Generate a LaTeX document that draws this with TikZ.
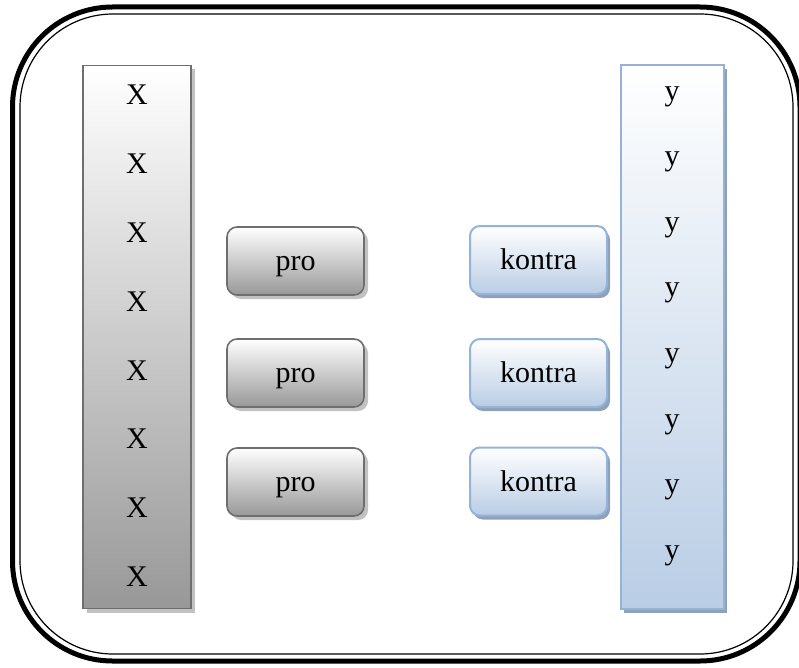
\documentclass[tikz,border=0pt]{standalone}
\usepackage{fontspec}
\setmainfont{Liberation Serif}
\usetikzlibrary{shadows}
\definecolor{grayborder}{HTML}{6E6E6E}
\definecolor{grayshadow}{HTML}{C2C2C2}
\definecolor{grayend}{HTML}{989898}
\definecolor{blueborder}{HTML}{95B3D7}
\definecolor{blueend}{HTML}{B9CDE5}
\definecolor{blueshadow}{HTML}{8EA1B9}
\begin{document}
\begin{tikzpicture}[x=1pt,y=-1pt,
  lbl/.style={font=\fontsize{30}{35}\selectfont, inner sep=0pt},
  graybox/.style={draw=grayborder, line width=1.6pt, top color=white, bottom color=grayend,
    drop shadow={shadow xshift=4pt, shadow yshift=-4pt, fill=grayshadow, opacity=1}},
  bluebox/.style={draw=blueborder, line width=2pt, top color=white, bottom color=blueend,
    drop shadow={shadow xshift=3pt, shadow yshift=-4pt, fill=blueshadow, opacity=1}},
  btn/.style={minimum width=137pt, minimum height=68pt, rounded corners=10pt, inner sep=0pt,
    text height=19pt, text depth=0pt, font=\fontsize{30}{35}\selectfont},
  col/.style={minimum width=108pt, minimum height=543pt, inner sep=0pt}
]
\useasboundingbox (0,0) rectangle (799,668);
% outer frame
\draw[line width=5pt, rounded corners=100pt] (12.5,7) rectangle (800,661);
\draw[line width=1.2pt, rounded corners=93pt] (20,14) rectangle (793,654);
% columns
\node[graybox, col] (L) at (137,337) {};
\node[bluebox, col, minimum width=103pt] (R) at (672,337) {};
\foreach \i in {0,...,7} {
  \node[lbl] (x\i) at (137,{95+68.8*\i}) {X};
  \node[lbl] (y\i) at (672,{96.5+65.6*\i}) {y};
}
% pro boxes
\node[graybox, btn] (p1) at (295.5,261) {pro};
\node[graybox, btn] (p2) at (295.5,373) {pro};
\node[graybox, btn] (p3) at (295.5,482) {pro};
% kontra boxes
\node[bluebox, btn] (k1) at (538.5,260) {kontra};
\node[bluebox, btn] (k2) at (538.5,373) {kontra};
\node[bluebox, btn] (k3) at (538.5,481.5) {kontra};
\end{tikzpicture}
\end{document}
